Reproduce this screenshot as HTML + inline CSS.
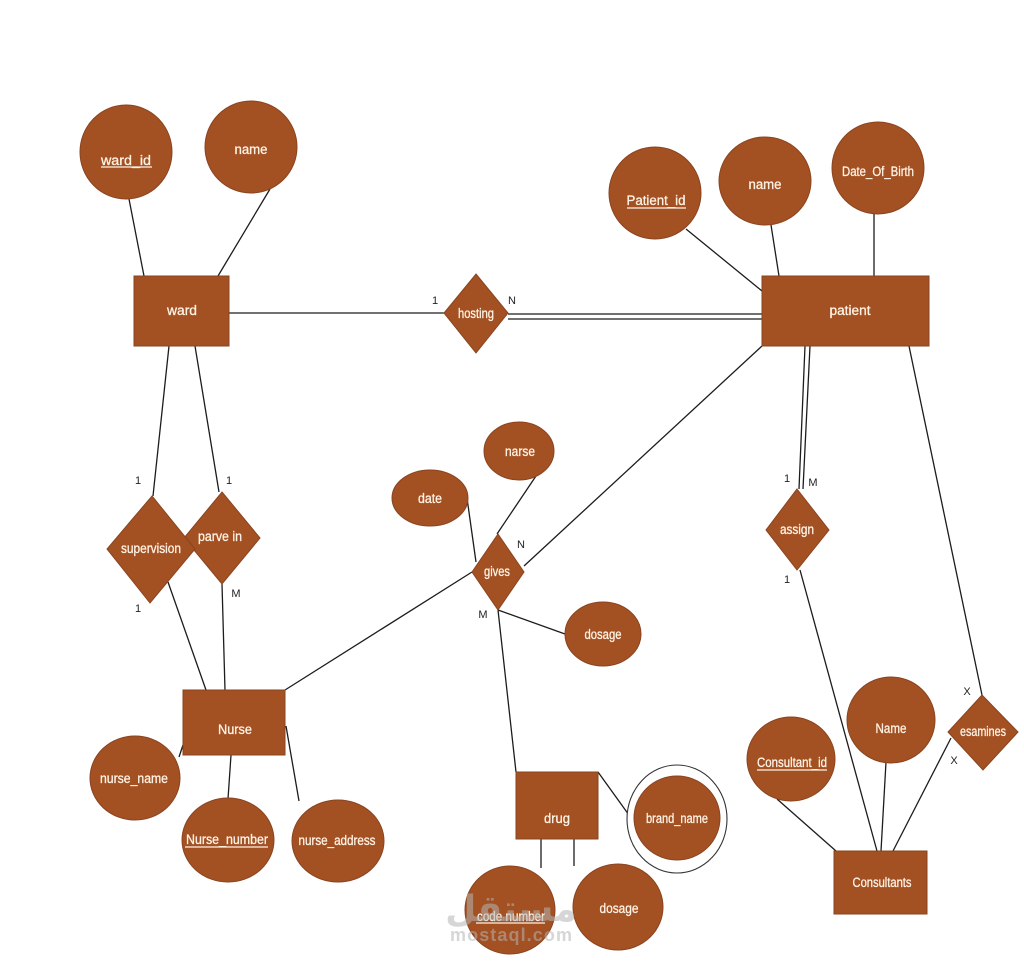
<!DOCTYPE html>
<html><head><meta charset="utf-8"><title>ER diagram</title>
<style>
html,body{margin:0;padding:0;background:#fff}
svg{display:block}
.l{stroke:#1c1c1c;stroke-width:1.3;fill:none}
.s{fill:#a35023;stroke:#8a4420;stroke-width:1}
text{font-family:"Liberation Sans",sans-serif}
.t{fill:#fff3e4;stroke:#fff3e4;stroke-width:.3;font-size:13.5px;text-anchor:middle}
.c{fill:#222;font-size:11px;text-anchor:middle}
.u{stroke:#fff3e4;stroke-width:1.2;fill:none}
</style></head><body>
<svg width="1024" height="964" viewBox="0 0 1024 964" xmlns="http://www.w3.org/2000/svg">
<rect width="1024" height="964" fill="#fff"/>
<g class="l">
<path d="M129 199L144 276M270 189L218 276"/>
<path d="M229 313H444"/>
<path d="M508 314H762M508 319H762"/>
<path d="M686 229L762 291M771 225L779 276M874 213V276"/>
<path d="M169 346L153 496M195 346L219 492"/>
<path d="M168 582L206 690M222 584L225 690"/>
<path d="M285 690L472 572"/>
<path d="M524 566L762 346"/>
<path d="M467 498L476 562M538 473L497 534"/>
<path d="M498 610L565 634M498 610L516 772"/>
<path d="M805 346L799 489M810 346L803 489"/>
<path d="M800 570L877 851"/>
<path d="M909 346L982 695"/>
<path d="M951 738L893 851"/>
<path d="M886 762L881 851"/>
<path d="M777 799L836 851"/>
<path d="M183 745L179 757M231 755L228 799M286 726L299 801"/>
<path d="M598 772L634 822M541 839V868M574 839V866"/>
</g>
<ellipse cx="677" cy="819" rx="50" ry="54" fill="#fff" stroke="#333" stroke-width="1.1"/>
<g class="s">
<ellipse cx="126" cy="152" rx="46" ry="47"/>
<ellipse cx="251" cy="147" rx="46" ry="46"/>
<ellipse cx="655" cy="193" rx="46" ry="46"/>
<ellipse cx="765" cy="181" rx="46" ry="44"/>
<ellipse cx="878" cy="168" rx="46" ry="46"/>
<ellipse cx="519" cy="451" rx="35" ry="29"/>
<ellipse cx="430" cy="498" rx="38" ry="28"/>
<ellipse cx="603" cy="634" rx="38" ry="32"/>
<ellipse cx="135" cy="778" rx="45" ry="42"/>
<ellipse cx="228" cy="840" rx="46" ry="42"/>
<ellipse cx="338" cy="841" rx="46" ry="41"/>
<ellipse cx="677" cy="818" rx="43" ry="42"/>
<ellipse cx="510" cy="910" rx="45" ry="44"/>
<ellipse cx="618" cy="907" rx="45" ry="43"/>
<ellipse cx="791" cy="759" rx="44" ry="42"/>
<ellipse cx="891" cy="720" rx="44" ry="43"/>
<rect x="134" y="276" width="95" height="70"/>
<rect x="762" y="276" width="167" height="70"/>
<rect x="183" y="690" width="102" height="65"/>
<rect x="516" y="772" width="82" height="67"/>
<rect x="834" y="851" width="93" height="63"/>
<polygon points="476,274 508,313 476,353 444,313"/>
<polygon points="222,492 260,538 222,584 184,538"/>
<polygon points="152,496 195,549 150,603 107,549"/>
<polygon points="498,534 524,572 498,610 472,572"/>
<polygon points="797,489 829,530 797,570 766,530"/>
<polygon points="982,695 1018,732 983,770 948,732"/>
</g>
<g class="t">
<text x="126" y="165" textLength="50" lengthAdjust="spacingAndGlyphs">ward_id</text>
<text x="251" y="154" textLength="33" lengthAdjust="spacingAndGlyphs">name</text>
<text x="182" y="315" textLength="30" lengthAdjust="spacingAndGlyphs">ward</text>
<text x="476" y="318" textLength="36" lengthAdjust="spacingAndGlyphs">hosting</text>
<text x="656" y="205" textLength="59" lengthAdjust="spacingAndGlyphs">Patient_id</text>
<text x="765" y="189" textLength="33" lengthAdjust="spacingAndGlyphs">name</text>
<text x="878" y="176" textLength="72" lengthAdjust="spacingAndGlyphs">Date_Of_Birth</text>
<text x="850" y="315" textLength="41" lengthAdjust="spacingAndGlyphs">patient</text>
<text x="520" y="456" textLength="30" lengthAdjust="spacingAndGlyphs">narse</text>
<text x="430" y="503" textLength="24" lengthAdjust="spacingAndGlyphs">date</text>
<text x="497" y="576" textLength="26" lengthAdjust="spacingAndGlyphs">gives</text>
<text x="603" y="639" textLength="37" lengthAdjust="spacingAndGlyphs">dosage</text>
<text x="151" y="553" textLength="60" lengthAdjust="spacingAndGlyphs">supervision</text>
<text x="220" y="541" textLength="44" lengthAdjust="spacingAndGlyphs">parve in</text>
<text x="797" y="534" textLength="34" lengthAdjust="spacingAndGlyphs">assign</text>
<text x="983" y="736" textLength="46" lengthAdjust="spacingAndGlyphs">esamines</text>
<text x="235" y="734" textLength="34" lengthAdjust="spacingAndGlyphs">Nurse</text>
<text x="134" y="783" textLength="68" lengthAdjust="spacingAndGlyphs">nurse_name</text>
<text x="227" y="844" textLength="82" lengthAdjust="spacingAndGlyphs">Nurse_number</text>
<text x="337" y="845" textLength="77" lengthAdjust="spacingAndGlyphs">nurse_address</text>
<text x="557" y="823" textLength="26" lengthAdjust="spacingAndGlyphs">drug</text>
<text x="677" y="823" textLength="62" lengthAdjust="spacingAndGlyphs">brand_name</text>
<text x="511" y="921" textLength="68" lengthAdjust="spacingAndGlyphs">code number</text>
<text x="619" y="913" textLength="39" lengthAdjust="spacingAndGlyphs">dosage</text>
<text x="792" y="767" textLength="70" lengthAdjust="spacingAndGlyphs">Consultant_id</text>
<text x="891" y="733" textLength="31" lengthAdjust="spacingAndGlyphs">Name</text>
<text x="882" y="887" textLength="59" lengthAdjust="spacingAndGlyphs">Consultants</text>
</g>
<g class="u">
<path d="M101 167H152M627 208H686M185 847H268M757 770H827M476 923H545"/>
</g>
<g class="c">
<text x="435" y="304">1</text>
<text x="512" y="304">N</text>
<text x="138" y="484">1</text>
<text x="229" y="484">1</text>
<text x="138" y="612">1</text>
<text x="236" y="597">M</text>
<text x="521" y="548">N</text>
<text x="483" y="618">M</text>
<text x="787" y="482">1</text>
<text x="813" y="486">M</text>
<text x="787" y="583">1</text>
<text x="967" y="695">X</text>
<text x="954" y="764">X</text>
</g>
<text x="511" y="921" style="font-size:36px;font-weight:bold;font-family:'Liberation Sans','DejaVu Sans',sans-serif;text-anchor:middle;fill:#b5b5b5;fill-opacity:.55" direction="rtl">مستقل</text>
<text x="511" y="941" style="font-size:18px;font-weight:bold;text-anchor:middle;fill:#b5b5b5;fill-opacity:.55" textLength="122" lengthAdjust="spacing">mostaql.com</text>
</svg>
</body></html>
